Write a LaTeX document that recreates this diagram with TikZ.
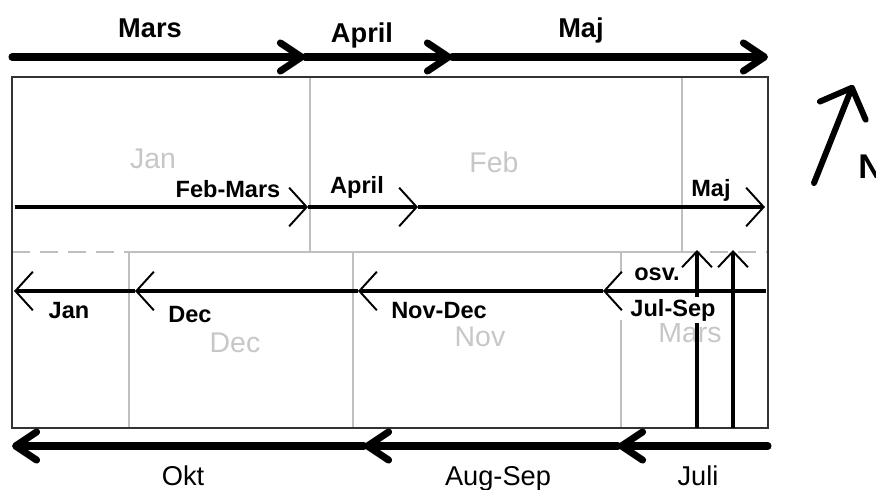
\documentclass[tikz,border=0pt]{standalone}
\usepackage{fontspec}
\setmainfont{Liberation Sans}
\usetikzlibrary{arrows.meta}

\begin{document}
\begin{tikzpicture}[
        x=0.02cm, y=-0.02cm,
        bigarrow/.style={line width=4pt, line cap=round, -{Straight Barb[length=12pt, width=16pt, round]}},
        midarrow/.style={line width=2.1pt, -{Straight Barb[length=10pt, width=22pt, line width=1.1pt]}},
        uparrow/.style={line width=1.8pt, -{Straight Barb[length=9pt, width=17pt, line width=1.1pt]}},
        northarrow/.style={line width=3.4pt, line cap=round, -{Straight Barb[length=14pt, width=28pt, round]}},
        frame/.style={draw=black!80, line width=0.8pt},
        cell/.style={draw=black!25, line width=0.6pt},
        gap/.style={cell, dash pattern=on 10pt off 6pt},
        season/.style={font=\fontsize{15.5pt}{18pt}\selectfont\bfseries, anchor=base, inner sep=0pt},
        flow/.style={font=\fontsize{15.5pt}{18pt}\selectfont, anchor=base, inner sep=0pt},
        step label/.style={font=\fontsize{13.4pt}{16pt}\selectfont\bfseries, anchor=base, inner sep=0pt},
        month/.style={font=\fontsize{16.2pt}{19pt}\selectfont, text=black!22, anchor=base, inner sep=0pt}
    ]
    \useasboundingbox (0,0) rectangle (876,490);

    % Cells
    \draw[cell] (310,77) -- (310,252);
    \draw[cell] (682,77) -- (682,252);
    \draw[cell] (129,252) -- (682,252);
    \draw[gap] (12,252) -- (129,252);
    \draw[gap] (682,252) -- (768,252);
    \draw[cell] (129,252) -- (129,428);
    \draw[cell] (353,252) -- (353,428);
    \draw[cell] (621,252) -- (621,273);
    \draw[cell] (621,320) -- (621,428);
    \draw[frame] (12,77) rectangle (768,428);

    % Months in the cells
    \node[month] (jancell) at (153,168) {Jan};
    \node[month] (febcell) at (494,172) {Feb};
    \node[month] (deccell) at (235,352) {Dec};
    \node[month] (novcell) at (480,346) {Nov};
    \node[month] (marscell) at (690,342) {Mars};

    % Top stream
    \coordinate (t0) at (12,57);
    \coordinate (t1) at (305,57);
    \coordinate (t2) at (452,57);
    \coordinate (t3) at (768,57);
    \draw[bigarrow] (t0) -- (t1);
    \draw[bigarrow] (t1) -- (t2);
    \draw[bigarrow] (t2) -- (t3);
    \node[season] (mars) at (150,37) {Mars};
    \node[season] (april) at (362,42) {April};
    \node[season] (maj) at (581,37) {Maj};

    % Bottom stream
    \coordinate (b0) at (768,446);
    \coordinate (b1) at (618,446);
    \coordinate (b2) at (364,446);
    \coordinate (b3) at (12,446);
    \draw[bigarrow] (b0) -- (b1);
    \draw[bigarrow] (b1) -- (b2);
    \draw[bigarrow] (b2) -- (b3);
    \node[flow] (okt) at (183,485) {Okt};
    \node[flow] (augsep) at (498,485) {Aug-Sep};
    \node[flow] (juli) at (698,485) {Juli};

    % Upper row
    \coordinate (u0) at (15,207);
    \coordinate (u1) at (308,207);
    \coordinate (u2) at (418,207);
    \coordinate (u3) at (765,207);
    \draw[midarrow] (u0) -- (u1);
    \draw[midarrow] (u1) -- (u2);
    \draw[midarrow] (u2) -- (u3);
    \node[step label] (febmars) at (228,197) {Feb-Mars};
    \node[step label] (aprilrow) at (357,193) {April};
    \node[step label] (majrow) at (711,196) {Maj};

    % Lower row
    \coordinate (l0) at (766,291);
    \coordinate (l1) at (603,291);
    \coordinate (l2) at (358,291);
    \coordinate (l3) at (135,291);
    \coordinate (l4) at (14,291);
    \draw[midarrow] (l0) -- (l1);
    \draw[midarrow] (l1) -- (l2);
    \draw[midarrow] (l2) -- (l3);
    \draw[midarrow] (l3) -- (l4);
    \node[step label] (janrow) at (69,318) {Jan};
    \node[step label] (decrow) at (190,322) {Dec};
    \node[step label] (novdec) at (439,318) {Nov-Dec};
    \node[step label] (osv) at (657,280) {osv.};

    % Turn-overs
    \coordinate (v1b) at (697,428);
    \coordinate (v1t) at (697,250);
    \coordinate (v2b) at (733,428);
    \coordinate (v2t) at (733,250);
    \draw[uparrow] (v1b) -- (v1t);
    \draw[uparrow] (v2b) -- (v2t);
    \node[step label, fill=white, inner sep=1pt] (julsep) at (673,316) {Jul-Sep};

    % North
    \coordinate (ntail) at (814,183);
    \coordinate (nhead) at (853,85);
    \draw[northarrow] (ntail) -- (nhead);
    \node[font=\fontsize{19.5pt}{22pt}\selectfont\bfseries, anchor=base west, inner sep=0pt] (north) at (858,178) {N};

\end{tikzpicture}
\end{document}
